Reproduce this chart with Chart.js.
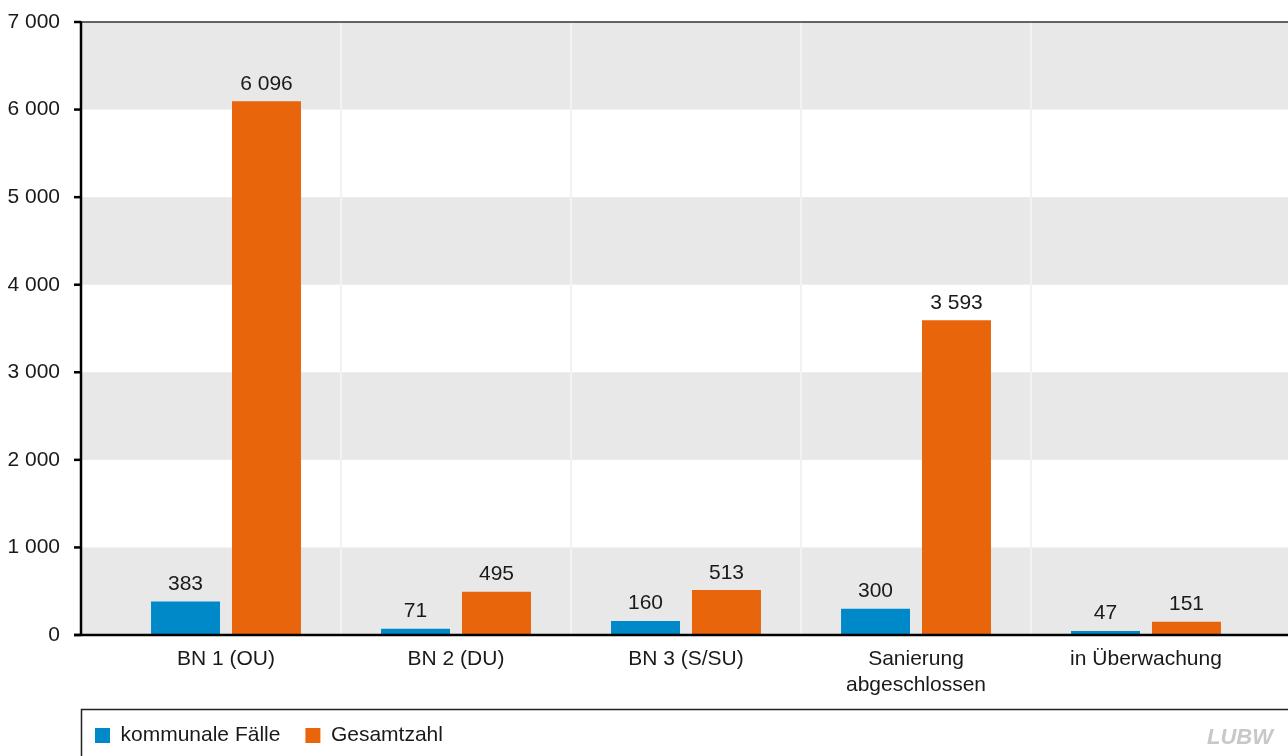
<!DOCTYPE html>
<html lang="de">
<head>
<meta charset="utf-8">
<title>Altlasten – kommunale Fälle und Gesamtzahl</title>
<script src="https://cdn.jsdelivr.net/npm/chart.js@4.4.1/dist/chart.umd.min.js"></script>
<style>
  html, body { margin: 0; padding: 0; background: #fff; }
  #wrap { width: 1288px; height: 756px; position: relative; overflow: hidden; }
</style>
</head>
<body>
<div id="wrap"><canvas id="balken" width="1288" height="756"></canvas></div>
<script>
const kategorien = ['BN 1 (OU)', 'BN 2 (DU)', 'BN 3 (S/SU)', ['Sanierung', 'abgeschlossen'], 'in Überwachung'];
const kommunaleFaelle = [383, 71, 160, 300, 47];
const gesamtzahl = [6096, 495, 513, 3593, 151];
const yTicks = [0, 1000, 2000, 3000, 4000, 5000, 6000, 7000];

const SCHRIFT = '"Liberation Sans", Arial, Helvetica, sans-serif';
const TEXT = '#1a1a1a';

// 1 000 statt 1,000
const tausender = v => String(v).replace(/\B(?=(\d{3})+(?!\d))/g, ' ');

// graue Bänder, Achsen, Werte über den Balken, Legendenrahmen
const deko = {
  id: 'deko',
  afterLayout(chart) {
    chart.legend.left = 70;
    chart.legend.top = 700;
  },
  beforeDraw(chart) {
    const c = chart.ctx, y = chart.scales.y;
    c.save();
    c.fillStyle = '#e8e8e8';
    for (let i = 0; i < yTicks.length - 1; i += 2) {
      const top = y.getPixelForValue(yTicks[i + 1]);
      const bot = y.getPixelForValue(yTicks[i]);
      c.fillRect(81, top, chart.width - 81, bot - top);
    }
    c.restore();
  },
  afterDatasetsDraw(chart) {
    const c = chart.ctx, y = chart.scales.y;
    const y0 = y.getPixelForValue(0), yTop = y.getPixelForValue(7000);
    c.save();
    // obere Linie
    c.strokeStyle = '#333';
    c.lineWidth = 1.5;
    c.beginPath(); c.moveTo(81, yTop); c.lineTo(chart.width, yTop); c.stroke();
    // y-Achse mit Strichen
    c.strokeStyle = '#000';
    c.lineWidth = 2.5;
    c.beginPath(); c.moveTo(81, yTop - 0.5); c.lineTo(81, y0 + 1); c.stroke();
    yTicks.forEach(t => {
      const p = y.getPixelForValue(t);
      c.beginPath(); c.moveTo(74, p); c.lineTo(81, p); c.stroke();
    });
    // x-Achse
    c.beginPath(); c.moveTo(74, y0); c.lineTo(chart.width, y0); c.stroke();

    // Werte
    c.fillStyle = TEXT;
    c.font = '21px ' + SCHRIFT;
    c.textAlign = 'center';
    c.textBaseline = 'alphabetic';
    chart.data.datasets.forEach((ds, i) => {
      chart.getDatasetMeta(i).data.forEach((bar, j) => {
        c.fillText(tausender(ds.data[j]), bar.x, bar.y - 11.5);
      });
    });

    // Legendenrahmen
    c.strokeStyle = '#222';
    c.lineWidth = 1.5;
    c.strokeRect(81.5, 709.5, chart.width, 100);

    // Logo
    c.fillStyle = '#c8c8c8';
    c.font = 'italic bold 22px "Liberation Sans Narrow", ' + SCHRIFT;
    c.textAlign = 'right';
    c.textBaseline = 'middle';
    c.fillText('LUBW', 1273, 738);
    c.restore();
  }
};

new Chart(document.getElementById('balken'), {
  type: 'bar',
  data: {
    labels: kategorien,
    datasets: [
      { label: 'kommunale Fälle', data: kommunaleFaelle, backgroundColor: '#0089c9' },
      { label: 'Gesamtzahl', data: gesamtzahl, backgroundColor: '#e9650b' }
    ]
  },
  options: {
    responsive: false,
    animation: false,
    devicePixelRatio: 1,
    categoryPercentage: 0.704,
    barPercentage: 0.852,
    layout: { padding: { left: 0, right: 27, top: 22, bottom: 0 } },
    plugins: {
      legend: {
        position: 'bottom',
        align: 'start',
        maxHeight: 56,
        labels: {
          boxWidth: 15,
          boxHeight: 15,
          padding: 25,
          color: TEXT,
          font: { family: SCHRIFT, size: 21 }
        }
      },
      tooltip: { enabled: false }
    },
    scales: {
      x: {
        afterFit(s) { s.height = 65; },
        border: { display: false },
        grid: {
          offset: true,
          drawTicks: false,
          lineWidth: 2,
          // nur die Trennlinien zwischen den Gruppen, nicht am Rand
          color: ctx => (ctx.index === 0 || ctx.index === undefined) ? 'rgba(0,0,0,0)' : '#f2f2f2'
        },
        ticks: {
          color: TEXT,
          padding: 12,
          maxRotation: 0,
          autoSkip: false,
          font: { family: SCHRIFT, size: 21, lineHeight: 1.2 }
        }
      },
      y: {
        min: 0,
        max: 7000,
        afterFit(s) {
          s.width = 111;
          s.paddingTop = 12;
          s.paddingBottom = 12;
        },
        border: { display: false },
        grid: { display: false, drawTicks: false },
        ticks: {
          stepSize: 1000,
          padding: 51,
          color: TEXT,
          font: { family: SCHRIFT, size: 21 },
          callback: v => tausender(v)
        }
      }
    }
  },
  plugins: [deko]
});
</script>
</body>
</html>
